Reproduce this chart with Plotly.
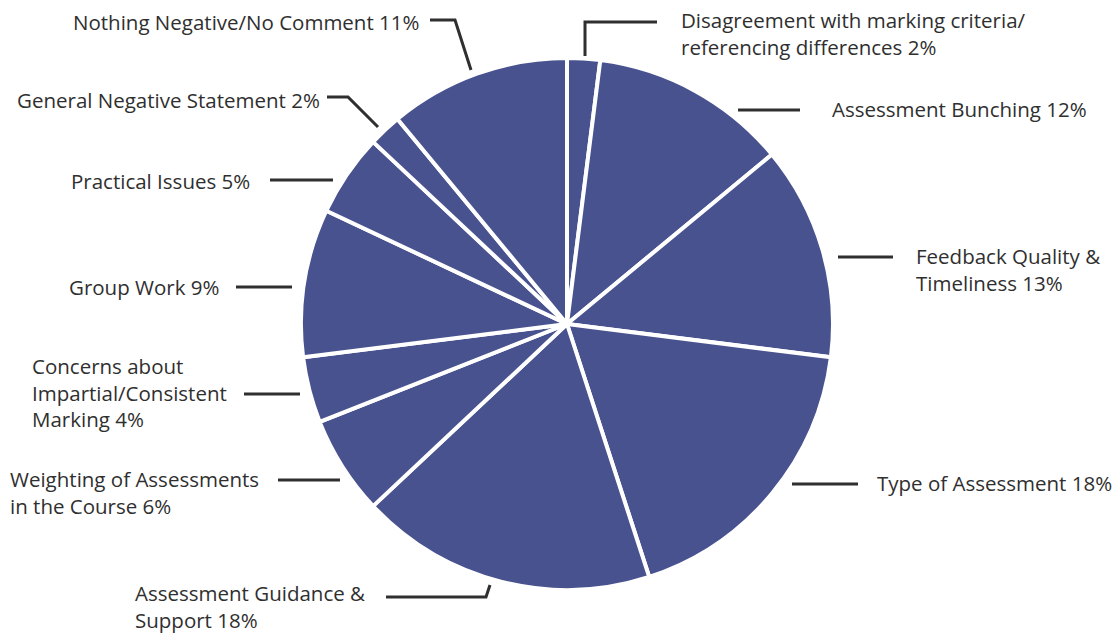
import plotly.graph_objects as go

# Survey themes, clockwise from 12 o'clock
categories = [
    "Disagreement with marking criteria/<br>referencing differences",
    "Assessment Bunching",
    "Feedback Quality &<br>Timeliness",
    "Type of Assessment",
    "Assessment Guidance &<br>Support",
    "Weighting of Assessments<br>in the Course",
    "Concerns about<br>Impartial/Consistent<br>Marking",
    "Group Work",
    "Practical Issues",
    "General Negative Statement",
    "Nothing Negative/No Comment",
]
percentages = [2, 12, 13, 18, 18, 6, 4, 9, 5, 2, 11]

W, H = 1118, 635
SLICE_COLOR = "#48528F"
TEXT_COLOR = "#2f2f2f"
FONT = "Open Sans"
FONT_SIZE = 20.5

# Label placement in pixels: text anchor point, which side the text hangs from,
# and the leader polyline from the label towards the pie.
label_layout = [
    dict(x=680, y=34, side="left", path=[(585, 56), (585, 22), (657, 22)]),
    dict(x=831, y=109, side="left", path=[(738, 110), (800, 110)]),
    dict(x=915, y=269, side="left", path=[(838, 257), (893, 257)]),
    dict(x=876, y=483, side="left", path=[(792, 484), (858, 484)]),
    dict(x=366, y=606, side="right", path=[(490, 585), (486, 597), (386, 597)]),
    dict(x=260, y=492, side="right", path=[(340, 480), (278, 480)]),
    dict(x=228, y=392, side="right", path=[(300, 394), (244, 394)]),
    dict(x=220, y=287, side="right", path=[(292, 287), (236, 287)]),
    dict(x=251, y=181, side="right", path=[(333, 180), (270, 180)]),
    dict(x=321, y=100, side="right", path=[(378, 127), (348, 97), (327, 97)]),
    dict(x=420, y=22, side="right", path=[(471, 70), (455, 20), (430, 20)]),
]


def px(x):
    return x / W


def py(y):
    return 1 - y / H


# Pie centred at (567, 324) with a 266 px radius
cx, cy, r = 567, 324, 266

fig = go.Figure(
    go.Pie(
        labels=categories,
        values=percentages,
        sort=False,
        direction="clockwise",
        rotation=0,
        textinfo="none",
        hoverinfo="label+percent",
        marker=dict(colors=[SLICE_COLOR] * len(percentages),
                    line=dict(color="white", width=4)),
        domain=dict(x=[px(cx - r), px(cx + r)], y=[py(cy + r), py(cy - r)]),
        showlegend=False,
    )
)

annotations = []
shapes = []
for name, pct, lay in zip(categories, percentages, label_layout):
    annotations.append(dict(
        x=px(lay["x"]), y=py(lay["y"]), xref="paper", yref="paper",
        text=f"{name} {pct}%", showarrow=False,
        xanchor=lay["side"], yanchor="middle", align="left",
        borderpad=0,
        font=dict(family=FONT, size=FONT_SIZE, color=TEXT_COLOR),
    ))
    pts = lay["path"]
    d = "M " + " L ".join(f"{px(x):.5f} {py(y):.5f}" for x, y in pts)
    shapes.append(dict(type="path", path=d, xref="paper", yref="paper",
                       line=dict(color=TEXT_COLOR, width=3)))

fig.update_layout(
    width=W, height=H,
    margin=dict(l=0, r=0, t=0, b=0),
    paper_bgcolor="white", plot_bgcolor="white",
    annotations=annotations, shapes=shapes,
)

fig.write_html("out.html")
